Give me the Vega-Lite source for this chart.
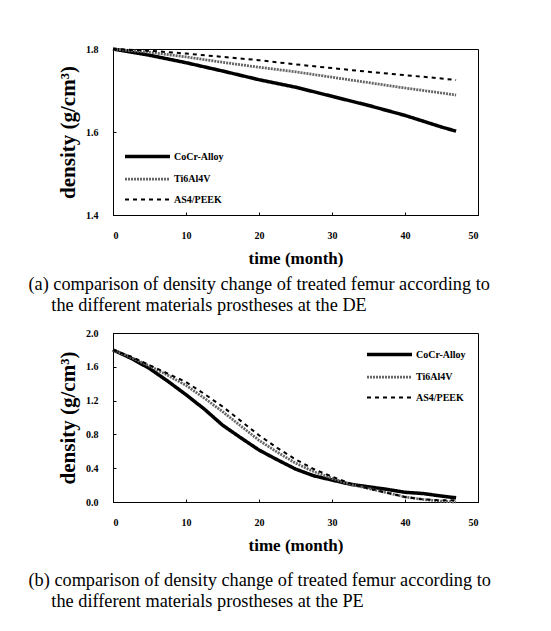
{
  "$schema": "https://vega.github.io/schema/vega-lite/v6.json",
  "background": "white",
  "padding": {"left": 28, "top": 41, "right": 5, "bottom": 5},
  "spacing": 12,
  "config": {
    "font": "Liberation Serif",
    "view": {"stroke": "black", "strokeWidth": 1},
    "axis": {
      "domainColor": "black", "tickColor": "black", "grid": false,
      "labelFont": "Liberation Serif", "labelFontWeight": "bold", "labelFontSize": 10, "labelColor": "black",
      "titleFont": "Liberation Serif", "titleFontWeight": "bold", "titleFontSize": 17, "titleColor": "black",
      "tickSize": -3, "labelPadding": 18
    },
    "axisX": {"titlePadding": 10},
    "axisY": {"titlePadding": 7, "titleFontSize": 21},
    "legend": {
      "labelFont": "Liberation Serif", "labelFontWeight": "bold", "labelFontSize": 10, "labelColor": "black",
      "symbolType": "M-1,0H5", "symbolSize": 225, "padding": 0, "rowPadding": 6, "labelOffset": 32
    },
    "title": {
      "font": "Liberation Serif", "fontSize": 18, "fontWeight": "normal", "color": "black",
      "orient": "bottom", "anchor": "start", "lineHeight": 21
    }
  },
  "datasets": {
    "a": [
      {"s": "CoCr-Alloy", "t": 0, "d": 1.8},
      {"s": "CoCr-Alloy", "t": 5, "d": 1.785},
      {"s": "CoCr-Alloy", "t": 10, "d": 1.767},
      {"s": "CoCr-Alloy", "t": 15, "d": 1.747},
      {"s": "CoCr-Alloy", "t": 20, "d": 1.726},
      {"s": "CoCr-Alloy", "t": 25, "d": 1.708},
      {"s": "CoCr-Alloy", "t": 30, "d": 1.686},
      {"s": "CoCr-Alloy", "t": 35, "d": 1.664},
      {"s": "CoCr-Alloy", "t": 40, "d": 1.64},
      {"s": "CoCr-Alloy", "t": 45, "d": 1.612},
      {"s": "CoCr-Alloy", "t": 47, "d": 1.602},
      {"s": "Ti6Al4V", "t": 0, "d": 1.8},
      {"s": "Ti6Al4V", "t": 5, "d": 1.792},
      {"s": "Ti6Al4V", "t": 10, "d": 1.781},
      {"s": "Ti6Al4V", "t": 15, "d": 1.768},
      {"s": "Ti6Al4V", "t": 20, "d": 1.756},
      {"s": "Ti6Al4V", "t": 25, "d": 1.745},
      {"s": "Ti6Al4V", "t": 30, "d": 1.732},
      {"s": "Ti6Al4V", "t": 35, "d": 1.719},
      {"s": "Ti6Al4V", "t": 40, "d": 1.706},
      {"s": "Ti6Al4V", "t": 45, "d": 1.694},
      {"s": "Ti6Al4V", "t": 47, "d": 1.689},
      {"s": "AS4/PEEK", "t": 0, "d": 1.8},
      {"s": "AS4/PEEK", "t": 5, "d": 1.796},
      {"s": "AS4/PEEK", "t": 10, "d": 1.789},
      {"s": "AS4/PEEK", "t": 15, "d": 1.781},
      {"s": "AS4/PEEK", "t": 20, "d": 1.773},
      {"s": "AS4/PEEK", "t": 25, "d": 1.763},
      {"s": "AS4/PEEK", "t": 30, "d": 1.754},
      {"s": "AS4/PEEK", "t": 35, "d": 1.745},
      {"s": "AS4/PEEK", "t": 40, "d": 1.737},
      {"s": "AS4/PEEK", "t": 45, "d": 1.729},
      {"s": "AS4/PEEK", "t": 47, "d": 1.725}
    ],
    "b": [
      {"s": "CoCr-Alloy", "t": 0, "d": 1.8},
      {"s": "CoCr-Alloy", "t": 2.5, "d": 1.7},
      {"s": "CoCr-Alloy", "t": 5, "d": 1.58},
      {"s": "CoCr-Alloy", "t": 7.5, "d": 1.43},
      {"s": "CoCr-Alloy", "t": 10, "d": 1.27},
      {"s": "CoCr-Alloy", "t": 12.5, "d": 1.1},
      {"s": "CoCr-Alloy", "t": 15, "d": 0.91},
      {"s": "CoCr-Alloy", "t": 17.5, "d": 0.76},
      {"s": "CoCr-Alloy", "t": 20, "d": 0.615},
      {"s": "CoCr-Alloy", "t": 22.5, "d": 0.5},
      {"s": "CoCr-Alloy", "t": 25, "d": 0.39},
      {"s": "CoCr-Alloy", "t": 27.5, "d": 0.31},
      {"s": "CoCr-Alloy", "t": 30, "d": 0.26},
      {"s": "CoCr-Alloy", "t": 32.5, "d": 0.21},
      {"s": "CoCr-Alloy", "t": 35, "d": 0.18},
      {"s": "CoCr-Alloy", "t": 37.5, "d": 0.15},
      {"s": "CoCr-Alloy", "t": 40, "d": 0.115},
      {"s": "CoCr-Alloy", "t": 42.5, "d": 0.1},
      {"s": "CoCr-Alloy", "t": 45, "d": 0.07},
      {"s": "CoCr-Alloy", "t": 47, "d": 0.05},
      {"s": "Ti6Al4V", "t": 0, "d": 1.8},
      {"s": "Ti6Al4V", "t": 2.5, "d": 1.71},
      {"s": "Ti6Al4V", "t": 5, "d": 1.61},
      {"s": "Ti6Al4V", "t": 7.5, "d": 1.5},
      {"s": "Ti6Al4V", "t": 10, "d": 1.38},
      {"s": "Ti6Al4V", "t": 12.5, "d": 1.23},
      {"s": "Ti6Al4V", "t": 15, "d": 1.07},
      {"s": "Ti6Al4V", "t": 17.5, "d": 0.9},
      {"s": "Ti6Al4V", "t": 20, "d": 0.73},
      {"s": "Ti6Al4V", "t": 22.5, "d": 0.59},
      {"s": "Ti6Al4V", "t": 25, "d": 0.46},
      {"s": "Ti6Al4V", "t": 27.5, "d": 0.36},
      {"s": "Ti6Al4V", "t": 30, "d": 0.28},
      {"s": "Ti6Al4V", "t": 32.5, "d": 0.21},
      {"s": "Ti6Al4V", "t": 35, "d": 0.16},
      {"s": "Ti6Al4V", "t": 37.5, "d": 0.11},
      {"s": "Ti6Al4V", "t": 40, "d": 0.06},
      {"s": "Ti6Al4V", "t": 42.5, "d": 0.03},
      {"s": "Ti6Al4V", "t": 45, "d": 0.01},
      {"s": "Ti6Al4V", "t": 47, "d": 0.0},
      {"s": "AS4/PEEK", "t": 0, "d": 1.8},
      {"s": "AS4/PEEK", "t": 2.5, "d": 1.72},
      {"s": "AS4/PEEK", "t": 5, "d": 1.62},
      {"s": "AS4/PEEK", "t": 7.5, "d": 1.52},
      {"s": "AS4/PEEK", "t": 10, "d": 1.42},
      {"s": "AS4/PEEK", "t": 12.5, "d": 1.28},
      {"s": "AS4/PEEK", "t": 15, "d": 1.13},
      {"s": "AS4/PEEK", "t": 17.5, "d": 0.96},
      {"s": "AS4/PEEK", "t": 20, "d": 0.79},
      {"s": "AS4/PEEK", "t": 22.5, "d": 0.64},
      {"s": "AS4/PEEK", "t": 25, "d": 0.505},
      {"s": "AS4/PEEK", "t": 27.5, "d": 0.39},
      {"s": "AS4/PEEK", "t": 30, "d": 0.3},
      {"s": "AS4/PEEK", "t": 32.5, "d": 0.22},
      {"s": "AS4/PEEK", "t": 35, "d": 0.16},
      {"s": "AS4/PEEK", "t": 37.5, "d": 0.11},
      {"s": "AS4/PEEK", "t": 40, "d": 0.06},
      {"s": "AS4/PEEK", "t": 42.5, "d": 0.03},
      {"s": "AS4/PEEK", "t": 45, "d": 0.02},
      {"s": "AS4/PEEK", "t": 47, "d": 0.02}
    ]
  },
  "resolve": {"scale": {"color": "independent", "strokeDash": "independent", "strokeWidth": "independent"}, "legend": {"color": "independent", "strokeDash": "independent", "strokeWidth": "independent"}},
  "vconcat": [
    {
      "width": 365, "height": 166,
      "title": {"text": ["(a) comparison of density change of treated femur according to", "\u200b\u00a0\u00a0\u00a0\u00a0\u00a0the different materials prostheses at the DE"], "font": "Liberation Serif", "fontSize": 18.3, "fontWeight": "normal", "dx": -29, "offset": 10},
      "data": {"name": "a"},
      "mark": {"type": "line"},
      "encoding": {
        "x": {"field": "t", "type": "quantitative", "scale": {"domain": [0, 50], "nice": false}, "axis": {"values": [0, 10, 20, 30, 40, 50], "title": "time (month)"}},
        "y": {"field": "d", "type": "quantitative", "scale": {"domain": [1.4, 1.8], "nice": false, "zero": false}, "axis": {"values": [1.4, 1.6, 1.8], "format": ".1f", "title": "density (g/cm³)"}},
        "color": {"field": "s", "type": "nominal", "sort": ["CoCr-Alloy", "Ti6Al4V", "AS4/PEEK"], "scale": {"domain": ["CoCr-Alloy", "Ti6Al4V", "AS4/PEEK"], "range": ["black", "#666666", "black"]}, "legend": {"title": null, "orient": "bottom-left", "offset": 10}},
        "strokeDash": {"field": "s", "type": "nominal", "sort": ["CoCr-Alloy", "Ti6Al4V", "AS4/PEEK"], "scale": {"domain": ["CoCr-Alloy", "Ti6Al4V", "AS4/PEEK"], "range": [[1, 0], [2, 1], [4, 4]]}, "legend": {"title": null, "orient": "bottom-left", "offset": 10}},
        "strokeWidth": {"field": "s", "type": "nominal", "sort": ["CoCr-Alloy", "Ti6Al4V", "AS4/PEEK"], "scale": {"domain": ["CoCr-Alloy", "Ti6Al4V", "AS4/PEEK"], "range": [3.5, 2, 1]}, "legend": {"title": null, "orient": "bottom-left", "offset": 10}}
      }
    },
    {
      "width": 365, "height": 169,
      "title": {"text": ["(b) comparison of density change of treated femur according to", "\u200b\u00a0\u00a0\u00a0\u00a0\u00a0the different materials prostheses at the PE"], "font": "Liberation Serif", "fontSize": 18.3, "fontWeight": "normal", "dx": -29, "offset": 19},
      "data": {"name": "b"},
      "mark": {"type": "line"},
      "encoding": {
        "x": {"field": "t", "type": "quantitative", "scale": {"domain": [0, 50], "nice": false}, "axis": {"values": [0, 10, 20, 30, 40, 50], "title": "time (month)"}},
        "y": {"field": "d", "type": "quantitative", "scale": {"domain": [0, 2], "nice": false}, "axis": {"values": [0, 0.4, 0.8, 1.2, 1.6, 2.0], "format": ".1f", "title": "density (g/cm³)"}},
        "color": {"field": "s", "type": "nominal", "sort": ["CoCr-Alloy", "Ti6Al4V", "AS4/PEEK"], "scale": {"domain": ["CoCr-Alloy", "Ti6Al4V", "AS4/PEEK"], "range": ["black", "#666666", "black"]}, "legend": {"title": null, "orient": "top-right", "offset": 12}},
        "strokeDash": {"field": "s", "type": "nominal", "sort": ["CoCr-Alloy", "Ti6Al4V", "AS4/PEEK"], "scale": {"domain": ["CoCr-Alloy", "Ti6Al4V", "AS4/PEEK"], "range": [[1, 0], [2, 1], [4, 4]]}, "legend": {"title": null, "orient": "top-right", "offset": 12}},
        "strokeWidth": {"field": "s", "type": "nominal", "sort": ["CoCr-Alloy", "Ti6Al4V", "AS4/PEEK"], "scale": {"domain": ["CoCr-Alloy", "Ti6Al4V", "AS4/PEEK"], "range": [3.5, 2, 1]}, "legend": {"title": null, "orient": "top-right", "offset": 12}}
      }
    }
  ]
}
